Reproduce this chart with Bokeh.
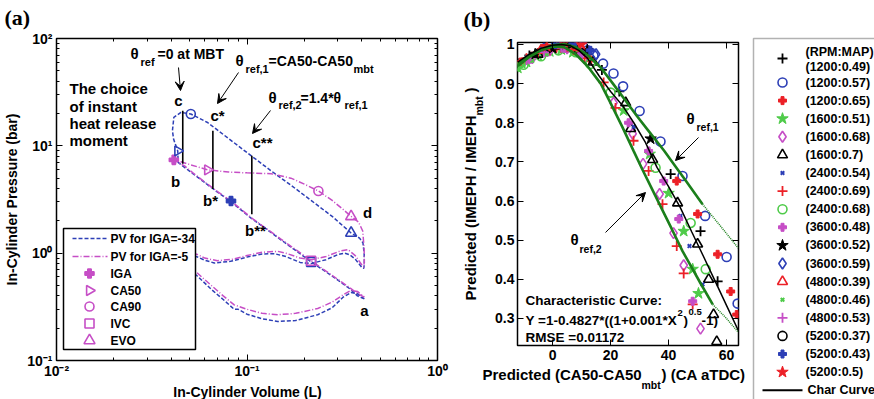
import math
from bokeh.plotting import figure
from bokeh.models import (Range1d, LogAxis, LinearAxis, FixedTicker,
                          CustomJSTickFormatter, Label, Arrow, VeeHead, BoxAnnotation)
from bokeh.layouts import row, column
from bokeh.core.properties import value
from bokeh.embed import file_html
from bokeh.resources import INLINE

FONT = "Liberation Sans"
BLUE = "#2d3fb6"
MAG = "#c64ec6"
RED = "#ec2027"
GRN = "#4fcb4a"
BLK = "#000000"
DGRN = "#1b7f1b"

# ---------------- panel (a) data : PV loops (V in L, P in bar) ----------------
blue_V = [0.413, 0.38, 0.35, 0.30, 0.26, 0.217, 0.18, 0.15, 0.125, 0.105, 0.0824, 0.07, 0.06, 0.052, 0.047, 0.0435,
          0.0433, 0.0412, 0.0406, 0.0413, 0.045, 0.0507, 0.0621, 0.08, 0.105, 0.134, 0.17, 0.217, 0.28, 0.352,
          0.39, 0.406, 0.412, 0.413, 0.41,
          0.40, 0.37, 0.345, 0.325, 0.30, 0.26, 0.217, 0.19, 0.16, 0.139, 0.12, 0.10, 0.082, 0.0673, 0.06, 0.055, 0.048, 0.043,
          0.042, 0.045, 0.05, 0.055, 0.065, 0.075, 0.0857, 0.09, 0.10, 0.12, 0.145, 0.18, 0.235, 0.28, 0.32, 0.352, 0.38, 0.413]
blue_P = [0.375, 0.40, 0.46, 0.56, 0.67, 0.83, 1.06, 1.34, 1.70, 2.12, 3.02, 3.7, 4.55, 5.5, 6.3, 7.0,
          8.97, 11.5, 13.8, 18.4, 20.5, 19.8, 16.5, 11.7, 8.1, 5.84, 4.3, 3.1, 2.2, 1.54,
          1.38, 1.25, 1.0, 0.8, 0.72,
          0.74, 0.88, 0.97, 1.0, 0.97, 0.87, 0.8, 0.82, 0.93, 0.99, 0.98, 0.92, 0.84, 0.81, 0.86, 0.92, 1.0, 1.05,
          0.95, 0.8, 0.7, 0.61, 0.46, 0.37, 0.30, 0.30, 0.27, 0.245, 0.231, 0.236, 0.267, 0.31, 0.39, 0.43, 0.42, 0.375]
mag_V = [0.413, 0.38, 0.35, 0.30, 0.26, 0.217, 0.18, 0.15, 0.125, 0.105, 0.0824, 0.07, 0.06, 0.052, 0.047, 0.0413,
         0.045, 0.05, 0.0621, 0.08, 0.10, 0.134, 0.17, 0.20, 0.237, 0.28, 0.32, 0.352, 0.385, 0.405, 0.412, 0.413, 0.41,
         0.40, 0.37, 0.339, 0.31, 0.26, 0.217, 0.19, 0.16, 0.145, 0.12, 0.10, 0.085, 0.07, 0.06, 0.055, 0.048, 0.043,
         0.042, 0.045, 0.05, 0.055, 0.065, 0.075, 0.0857, 0.10, 0.12, 0.145, 0.18, 0.235, 0.28, 0.32, 0.352, 0.38, 0.413]
mag_P = [0.39, 0.42, 0.47, 0.57, 0.68, 0.85, 1.08, 1.36, 1.72, 2.15, 3.06, 3.75, 4.6, 5.6, 6.5, 7.4,
         7.1, 6.7, 5.97, 5.7, 5.6, 5.5, 5.0, 4.4, 3.8, 3.1, 2.55, 2.2, 1.95, 1.61, 1.1, 0.85, 0.74,
         0.78, 0.95, 1.08, 1.05, 0.93, 0.87, 0.9, 1.0, 1.04, 1.02, 0.95, 0.88, 0.85, 0.9, 0.97, 1.03, 1.08,
         1.0, 0.85, 0.74, 0.65, 0.5, 0.4, 0.33, 0.3, 0.275, 0.267, 0.275, 0.305, 0.35, 0.41, 0.45, 0.44, 0.39]

event_names = ["IGA", "CA50", "CA90", "IVC", "EVO"]
blue_event_V = [0.0824, 0.0433, 0.0507, 0.217, 0.352]
blue_event_P = [3.06, 8.97, 19.8, 0.83, 1.54]
mag_event_V = [0.0413, 0.0621, 0.237, 0.217, 0.352]
mag_event_P = [7.4, 5.97, 3.8, 0.85, 2.2]
curve_names = ["PV for IGA=-34", "PV for IGA=-5"]

ref_V = [0.046, 0.0662, 0.106]
ref_P_low = [6.8, 3.96, 2.31]
ref_P_high = [21.2, 13.8, 8.07]

x_ticks_a = [0.01, 0.1, 1]
y_ticks_a = [0.1, 1, 10, 100]

# ---------------- panel (b) data ----------------
x_1200_049 = [-12, -8, -4, 0, 4, 8, 12, 17, 23, 40.7, 51, 56.9]
y_1200_049 = [0.952, 0.972, 0.987, 0.997, 1.002, 0.995, 0.975, 0.935, 0.88, 0.669, 0.523, 0.395]
x_1200_057 = [3.8, 7.9, 10.5, 12.1, 14.1, 17.4, 21, 24.3, 30, 37.2, 44.8, 52.6, 60, 63.8]
y_1200_057 = [1.01, 1.007, 0.995, 0.985, 0.972, 0.951, 0.926, 0.893, 0.83, 0.752, 0.664, 0.562, 0.457, 0.338]
x_1200_065 = [-11, -7, -3, 1, 5, 9, 13, 42.8, 50, 56.9, 61.4, 63.5]
y_1200_065 = [0.955, 0.97, 0.985, 0.99, 0.99, 0.98, 0.96, 0.651, 0.567, 0.464, 0.369, 0.31]
x_1600_051 = [-12, -9, -5, -1, 3, 7, 24.5, 33.5, 40, 45.2, 48.3, 50.3]
y_1600_051 = [0.94, 0.955, 0.972, 0.982, 0.987, 0.98, 0.831, 0.72, 0.62, 0.523, 0.426, 0.364]
x_1600_068 = [-7, -1, 5, 11, 21, 27.6, 31.2, 36.9, 41.7, 45.2, 51]
y_1600_068 = [0.965, 0.985, 0.99, 0.965, 0.851, 0.772, 0.695, 0.618, 0.518, 0.436, 0.274]
x_1600_070 = [-5, 2, 9, 14, 25.2, 26.9, 34.5, 43.1, 50, 53.8, 55.5, 56.6]
y_1600_070 = [0.975, 0.995, 0.985, 0.955, 0.851, 0.785, 0.706, 0.595, 0.49, 0.40, 0.31, 0.241]
x_2400_054 = [-6, -2, 2, 6, 10, 28, 44.1, 47.2, 51.7]
y_2400_054 = [0.975, 0.985, 0.995, 0.998, 0.985, 0.79, 0.562, 0.485, 0.387]
x_2400_069 = [-9, -5, -1, 3, 7, 11, 17.6, 21.7, 27.9, 33.1, 37.9, 42.8, 45.2, 48.3]
y_2400_069 = [0.965, 0.978, 0.985, 0.99, 0.985, 0.965, 0.903, 0.838, 0.754, 0.677, 0.592, 0.485, 0.415, 0.336]
x_2400_068 = [-10, -4, 2, 8, 13, 20, 35.5, 47.6, 52.8]
y_2400_068 = [0.948, 0.97, 0.985, 0.98, 0.95, 0.877, 0.685, 0.544, 0.426]
x_3600_048 = [-8, -2, 4, 10, 26.2, 33.1, 38.3, 43.5, 48.3]
y_3600_048 = [0.962, 0.98, 0.99, 0.975, 0.8, 0.728, 0.651, 0.554, 0.344]
x_3600_052 = [-6, 0, 6, 12, 33.8]
y_3600_052 = [0.975, 0.99, 1.0, 0.985, 0.759]
x_3600_059 = [-3, 3, 9, 15]
y_3600_059 = [0.99, 1.0, 1.0, 0.975]
x_4800_039 = [-4, 2, 8]
y_4800_039 = [0.985, 0.997, 0.995]
x_4800_046 = [-12, -10, -7, -2]
y_4800_046 = [0.935, 0.945, 0.958, 0.975]
x_4800_053 = [-9, -3, 3]
y_4800_053 = [0.96, 0.98, 0.992]
x_5200_037 = [-1, 5]
y_5200_037 = [0.995, 1.002]
x_5200_043 = [1, 7, 13]
y_5200_043 = [1.0, 1.005, 0.985]
x_5200_050 = [-2, 4, 10]
y_5200_050 = [0.995, 1.005, 1.0]

series_labels = ["(1200:0.49)", "(1200:0.57)", "(1200:0.65)", "(1600:0.51)", "(1600:0.68)", "(1600:0.7)",
                 "(2400:0.54)", "(2400:0.69)", "(2400:0.68)", "(3600:0.48)", "(3600:0.52)", "(3600:0.59)",
                 "(4800:0.39)", "(4800:0.46)", "(4800:0.53)", "(5200:0.37)", "(5200:0.43)", "(5200:0.5)"]
series_x = [x_1200_049, x_1200_057, x_1200_065, x_1600_051, x_1600_068, x_1600_070, x_2400_054, x_2400_069,
            x_2400_068, x_3600_048, x_3600_052, x_3600_059, x_4800_039, x_4800_046, x_4800_053, x_5200_037,
            x_5200_043, x_5200_050]
series_y = [y_1200_049, y_1200_057, y_1200_065, y_1600_051, y_1600_068, y_1600_070, y_2400_054, y_2400_069,
            y_2400_068, y_3600_048, y_3600_052, y_3600_059, y_4800_039, y_4800_046, y_4800_053, y_5200_037,
            y_5200_043, y_5200_050]

char_x = [-12, -8, -4, 0, 3, 6, 9, 12, 16, 20, 24, 28, 32, 36, 40, 44, 48, 52, 56, 60, 64]
char_y = [0.955, 0.975, 0.99, 0.998, 1.0, 0.997, 0.985, 0.965, 0.92, 0.88, 0.845, 0.80, 0.75, 0.686, 0.637,
          0.584, 0.521, 0.459, 0.396, 0.333, 0.27]
ref2_x = [-12, -8, -4, 0, 4, 8, 12, 16.6, 20, 24, 28, 31, 34, 38, 41, 44.8, 48, 51, 55.2]
ref2_y = [0.945, 0.968, 0.985, 0.995, 0.993, 0.975, 0.945, 0.90, 0.85, 0.79, 0.727, 0.68, 0.635, 0.575, 0.53,
          0.472, 0.43, 0.39, 0.336]
ref2_ext_x = [55.2, 60, 64]
ref2_ext_y = [0.336, 0.30, 0.265]
ref1_x = [-12, -8, -4, 0, 4, 8, 12, 16.6, 21, 25, 29, 33, 38.4, 42, 46, 51.7]
ref1_y = [0.95, 0.972, 0.988, 0.998, 1.001, 0.993, 0.973, 0.941, 0.898, 0.858, 0.818, 0.78, 0.729, 0.692,
          0.651, 0.592]
ref1_ext_x = [51.7, 58, 64]
ref1_ext_y = [0.592, 0.535, 0.48]

x_ticks_b = [0, 20, 40, 60]
y_ticks_b = [0.3, 0.4, 0.5, 0.6, 0.7, 0.8, 0.9, 1.0]

# ---------------- styles ----------------
series_marker = ["cross", "circle", "plus", "star", "diamond", "triangle", "x",
                 "cross", "circle", "plus", "star", "diamond", "triangle", "x",
                 "cross", "circle", "plus", "star"]
series_color = [BLK, BLUE, RED, GRN, MAG, BLK, BLUE, RED, GRN, MAG, BLK, BLUE, RED, GRN, MAG, BLK, BLUE, RED]
MSIZE = {"cross": 10, "circle": 9, "plus": 8, "star": 12, "diamond": 11, "triangle": 10, "x": 5}
MLW = {"cross": 1.8, "circle": 1.6, "plus": 1.0, "star": 1.0, "diamond": 1.6, "triangle": 1.6, "x": 2.0}
FILLED = {"plus", "star"}


def style_axis(ax, size="14px"):
    ax.axis_line_color = None
    ax.major_tick_in = 6
    ax.major_tick_out = 0
    ax.minor_tick_in = 3
    ax.minor_tick_out = 0
    ax.major_tick_line_color = "black"
    ax.minor_tick_line_color = "black"
    ax.major_label_text_font = FONT
    ax.major_label_text_font_style = "bold"
    ax.major_label_text_font_size = size
    ax.major_label_text_color = "black"
    ax.axis_label_text_font = FONT
    ax.axis_label_text_font_style = "bold"
    ax.axis_label_text_font_size = "14px"
    ax.axis_label_text_color = "black"


def mirror(ax):
    style_axis(ax, size="0px")
    ax.major_label_standoff = 0
    return ax


def lab(p, x, y, txt, size, align="left", angle=0.0, font=FONT, style="bold"):
    p.add_layout(Label(x=x, y=y, text=txt, text_font=font, text_font_size=size, text_font_style=style,
                       text_align=align, text_baseline="middle", angle=angle, text_color="black"))


def strip(w, h):
    f = figure(width=w, height=h, x_range=Range1d(0, w), y_range=Range1d(h, 0),
               x_axis_type=None, y_axis_type=None, output_backend="svg", toolbar_location=None,
               min_border=0, min_border_left=0, min_border_right=0, min_border_top=0, min_border_bottom=0,
               frame_align=False)
    f.outline_line_color = None
    return f


# ================= panel (a) =================
TOP_A = 30
XLAB_A = 16
top_a = strip(460, TOP_A)
lab(top_a, 4, 17, "(a)", "22px", font="Liberation Serif")
xlab_a = strip(460, XLAB_A)
lab(xlab_a, 247, 8, "In-Cylinder Volume (L)", "14px", align="center")

pa = figure(width=460, height=399 - TOP_A - XLAB_A, x_axis_type="log", y_axis_type="log",
            x_range=Range1d(0.01, 1), y_range=Range1d(0.1, 100),
            output_backend="svg", toolbar_location=None, frame_align=False,
            min_border_left=56, min_border_right=23, min_border_top=38 - TOP_A,
            min_border_bottom=399 - XLAB_A - 360)
pa.grid.visible = False
pa.outline_line_color = "black"
pa.outline_line_width = 1.5

minor_x_a = [k * t for t in x_ticks_a[:-1] for k in range(2, 10)]
minor_y_a = [k * t for t in y_ticks_a[:-1] for k in range(2, 10)]
sup_code = """
const e = Math.round(Math.log10(tick));
const m = {"-2": "\u207b\u00b2", "-1": "\u207b\u00b9", "0": "\u2070", "1": "\u00b9", "2": "\u00b2"};
return "10" + m[String(e)];
"""
pa.xaxis.ticker = FixedTicker(ticks=x_ticks_a, minor_ticks=minor_x_a)
pa.yaxis.ticker = FixedTicker(ticks=y_ticks_a, minor_ticks=minor_y_a)
pa.xaxis.formatter = CustomJSTickFormatter(code=sup_code)
pa.yaxis.formatter = CustomJSTickFormatter(code=sup_code)
pa.yaxis.axis_label = "In-Cylinder Pressure (bar)"
for ax in pa.xaxis + pa.yaxis:
    style_axis(ax)
pa.xaxis.major_label_standoff = 2
pa.yaxis.major_label_standoff = 4
pa.yaxis.axis_label_standoff = 4
pa.add_layout(mirror(LogAxis(ticker=FixedTicker(ticks=x_ticks_a, minor_ticks=minor_x_a),
                             formatter=CustomJSTickFormatter(code="return ''"))), "above")
pa.add_layout(mirror(LogAxis(ticker=FixedTicker(ticks=y_ticks_a, minor_ticks=minor_y_a),
                             formatter=CustomJSTickFormatter(code="return ''"))), "right")

pa.line(blue_V, blue_P, line_color=BLUE, line_dash="4 2", line_width=1.5)
pa.line(mag_V, mag_P, line_color=MAG, line_dash="6 2 1 2", line_width=1.5)
pa.segment(x0=ref_V, y0=ref_P_low, x1=ref_V, y1=ref_P_high, line_color="black", line_width=1.6)

event_marker = ["plus", "triangle", "circle", "square", "triangle"]
event_angle = [0.0, -math.pi / 2, 0.0, 0.0, 0.0]
event_size = [9, 10, 9, 9, 11]
for i in range(len(event_names)):
    filled = event_marker[i] == "plus"
    pa.scatter([blue_event_V[i]], [blue_event_P[i]], marker=event_marker[i], angle=event_angle[i],
               size=event_size[i], line_color=BLUE, fill_color=BLUE, fill_alpha=1 if filled else 0,
               line_width=1.6)
    pa.scatter([mag_event_V[i]], [mag_event_P[i]], marker=event_marker[i], angle=event_angle[i],
               size=event_size[i], line_color=MAG, fill_color=MAG, fill_alpha=1 if filled else 0,
               line_width=1.6)


def ax_(px):
    return 10 ** ((px - 56) / 190.5 - 2)


def ay_(py):
    return 10 ** (2 - (py - 38) / 107.33)


# legend of panel (a), drawn as glyphs so that the CA50 triangle keeps its orientation
pa.quad(left=[ax_(63)], right=[ax_(195)], top=[ay_(228)], bottom=[ay_(349)],
        fill_color="white", line_color="black", line_width=1.5)
leg_rows = [238, 256, 273, 290, 306, 323, 340]
pa.segment(x0=[ax_(72)], x1=[ax_(107)], y0=[ay_(leg_rows[0])], y1=[ay_(leg_rows[0])],
           line_color=BLUE, line_dash="4 2", line_width=1.5)
pa.segment(x0=[ax_(72)], x1=[ax_(107)], y0=[ay_(leg_rows[1])], y1=[ay_(leg_rows[1])],
           line_color=MAG, line_dash="6 2 1 2", line_width=1.5)
for i in range(len(event_names)):
    filled = event_marker[i] == "plus"
    pa.scatter([ax_(89)], [ay_(leg_rows[i + 2])], marker=event_marker[i], angle=event_angle[i],
               size=event_size[i], line_color=MAG, fill_color=MAG, fill_alpha=1 if filled else 0,
               line_width=1.6)
pa.text(x=[ax_(110)] * 7, y=[ay_(r) for r in leg_rows], text=curve_names + event_names,
        text_font=value(FONT), text_font_style="bold", text_font_size="12px",
        text_baseline="middle", text_color="black")

for txt, py in zip(["The choice", "of instant", "heat release", "moment"], [88, 106, 123, 140]):
    lab(pa, ax_(69), ay_(py), txt, "15px")
lab(pa, ax_(130), ay_(53), "\u03b8", "15px")
lab(pa, ax_(140), ay_(61), "ref", "11px")
lab(pa, ax_(157), ay_(53), "=0 at MBT", "14px")
lab(pa, ax_(235), ay_(60), "\u03b8", "15px")
lab(pa, ax_(245), ay_(68), "ref,1", "11px")
lab(pa, ax_(268), ay_(60), "=CA50-CA50", "14px")
lab(pa, ax_(353), ay_(68), "mbt", "11px")
lab(pa, ax_(268), ay_(97), "\u03b8", "15px")
lab(pa, ax_(278), ay_(104), "ref,2", "11px")
lab(pa, ax_(300), ay_(97), "=1.4*\u03b8", "14px")
lab(pa, ax_(344), ay_(104), "ref,1", "11px")
for txt, px, py in [("c", 178, 100), ("c*", 217, 115), ("c**", 262, 142), ("b", 175, 181),
                    ("b*", 210, 200), ("b**", 255, 230), ("d", 367, 212), ("a", 364, 310)]:
    lab(pa, ax_(px), ay_(py), txt, "15px", align="center")
for (x0, y0, x1, y1) in [(178, 67, 180, 90), (238, 72, 217, 103), (270, 110, 252, 133)]:
    pa.add_layout(Arrow(end=VeeHead(size=9, fill_color="black", line_color="black"),
                        x_start=ax_(x0), y_start=ay_(y0), x_end=ax_(x1), y_end=ay_(y1),
                        line_color="black", line_width=1.0))

# ================= panel (b) =================
TOP = 34
MID_B = 367 - TOP
top_b = strip(287, TOP)
lab(top_b, 3, 19, "(b)", "22px", font="Liberation Serif")

ylab_b = strip(27, MID_B)
lab(ylab_b, 10, 300 - TOP, "Predicted (IMEPH / IMEPH", "15px", angle=math.pi / 2)
lab(ylab_b, 18, 115 - TOP, "mbt", "10.5px", angle=math.pi / 2)
lab(ylab_b, 10, 92 - TOP, ")", "15px", angle=math.pi / 2)

xlab_b = strip(287, 32)
lab(xlab_b, 22, 7, "Predicted (CA50-CA50", "15px")
lab(xlab_b, 181, 17, "mbt", "10.5px")
lab(xlab_b, 201, 7, ") (CA aTDC)", "15px")

pb = figure(width=260, height=MID_B, x_range=Range1d(-12.1, 64.1), y_range=Range1d(0.231, 1.005),
            output_backend="svg", toolbar_location=None, frame_align=False,
            min_border_left=30, min_border_right=9, min_border_top=42 - TOP, min_border_bottom=22)
pb.grid.visible = False
pb.outline_line_color = "black"
pb.outline_line_width = 1.5
pb.xaxis.ticker = FixedTicker(ticks=x_ticks_b)
pb.yaxis.ticker = FixedTicker(ticks=y_ticks_b)
pb.yaxis.formatter = CustomJSTickFormatter(code="return String(Math.round(tick*10)/10)")
for ax in pb.xaxis + pb.yaxis:
    style_axis(ax)
pb.xaxis.major_label_standoff = 4
pb.yaxis.major_label_standoff = 3
pb.add_layout(mirror(LinearAxis(ticker=FixedTicker(ticks=x_ticks_b),
                                formatter=CustomJSTickFormatter(code="return ''"))), "above")
pb.add_layout(mirror(LinearAxis(ticker=FixedTicker(ticks=y_ticks_b),
                                formatter=CustomJSTickFormatter(code="return ''"))), "right")

for xs, ys, mk, col in zip(series_x, series_y, series_marker, series_color):
    pb.scatter(xs, ys, marker=mk, size=MSIZE[mk], line_color=col, fill_color=col,
               fill_alpha=1 if mk in FILLED else 0, line_width=MLW[mk])

pb.line(ref2_x, ref2_y, line_color=DGRN, line_width=2.6)
pb.line(ref2_ext_x, ref2_ext_y, line_color=DGRN, line_width=1.5, line_dash="1 1")
pb.line(ref1_x, ref1_y, line_color=DGRN, line_width=2.6)
pb.line(ref1_ext_x, ref1_ext_y, line_color=DGRN, line_width=1.5, line_dash="1 1")
pb.line(char_x, char_y, line_color="black", line_width=1.5)


def bx(px):
    return -12.1 + (px - 517) / 2.9


def by(py):
    return 1.005 - (py - 42) / 391.5


lab(pb, bx(686), by(118), "\u03b8", "15px")
lab(pb, bx(696), by(127), "ref,1", "10.5px")
lab(pb, bx(570), by(239), "\u03b8", "15px")
lab(pb, bx(579), by(249), "ref,2", "10.5px")
for (x0, y0, x1, y1) in [(698, 137, 675, 160), (605, 232, 645, 192)]:
    pb.add_layout(Arrow(end=VeeHead(size=9, fill_color="black", line_color="black"),
                        x_start=bx(x0), y_start=by(y0), x_end=bx(x1), y_end=by(y1),
                        line_color="black", line_width=1.0))
lab(pb, bx(525), by(300), "Characteristic Curve:", "13.5px")
lab(pb, bx(525), by(320), "Y =1-0.4827*((1+0.001*X", "13.5px")
lab(pb, bx(677), by(313), "2", "9.5px")
lab(pb, bx(683), by(320), ")", "13.5px")
lab(pb, bx(688), by(312), "0.5", "9.5px")
lab(pb, bx(701), by(320), "-1)", "13.5px")
lab(pb, bx(525), by(337), "RMSE =0.01172", "13.5px")

# ================= legend of panel (b) =================
pl = strip(127, 399)
pl.add_layout(BoxAnnotation(left=6, right=140, top=38, bottom=420, fill_color=None,
                            line_color="black", line_width=1.5))
row_y = [58] + [82 + 18.1 * i for i in range(len(series_labels) - 1)]
for i, (mk, col) in enumerate(zip(series_marker, series_color)):
    pl.scatter([35], [row_y[i]], marker=mk, size=MSIZE[mk], line_color=col, fill_color=col,
               fill_alpha=1 if mk in FILLED else 0, line_width=MLW[mk])
label_y = [66] + row_y[1:]
pl.text(x=[58] * len(series_labels), y=label_y, text=series_labels, text_font=value(FONT),
        text_font_style="bold", text_font_size="12.5px", text_baseline="middle", text_color="black")
char_row = 82 + 18.1 * (len(series_labels) - 1)
pl.text(x=[58, 60], y=[51, char_row], text=["(RPM:MAP)", "Char Curve"], text_font=value(FONT),
        text_font_style="bold", text_font_size="12.5px", text_baseline="middle", text_color="black")
pl.segment(x0=[15], y0=[char_row], x1=[55], y1=[char_row], line_color="black", line_width=2)

col_a = column(top_a, pa, xlab_a)
col_b = column(top_b, row(ylab_b, pb), xlab_b)
layout = row(col_a, col_b, pl)
open("out.html", "w").write(file_html(layout, INLINE))
